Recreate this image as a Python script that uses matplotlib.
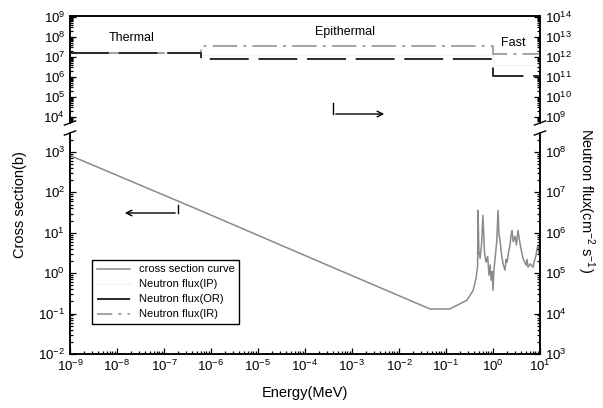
import matplotlib.pyplot as plt
from matplotlib.lines import Line2D
from matplotlib.ticker import LogLocator, FuncFormatter, NullFormatter
import numpy as np

plt.rcParams['font.family'] = ['Liberation Sans', 'DejaVu Sans']
plt.rcParams['mathtext.default'] = 'regular'

# cross section curve (energy in MeV, cross section in b)
energy_xs = [1e-9, 5.8e-7, 7.8e-5, 1.05e-2, 4.6e-2, 0.12, 0.28, 0.38, 0.44, 0.47,
             0.48, 0.50, 0.53, 0.57, 0.61, 0.66, 0.71, 0.77, 0.82, 0.87,
             0.91, 0.96, 1.0, 1.05, 1.10, 1.20, 1.28, 1.34, 1.41, 1.48,
             1.55, 1.66, 1.80, 1.90, 1.99, 2.15, 2.30, 2.42, 2.54, 2.70,
             2.94, 3.15, 3.40, 3.60, 3.75, 4.05, 4.35, 4.70, 5.04, 5.30,
             5.56, 6.20, 7.10, 7.60, 8.22, 8.60, 9.06, 9.50, 10.0]
sigma_xs = [820, 36, 3.1, 0.27, 0.13, 0.13, 0.215, 0.38, 0.8, 1.5,
            36, 3.5, 2.34, 5.0, 27, 3.2, 1.87, 2.6, 0.89, 1.6,
            0.67, 1.1, 0.38, 1.3, 2.09, 6.0, 36, 9.0, 6.5, 3.8,
            2.48, 1.6, 1.19, 2.2, 1.87, 3.4, 4.9, 8.5, 11.5, 6.0,
            8.2, 5.0, 11.5, 7.5, 5.5, 3.4, 2.34, 1.9, 1.58, 2.2,
            1.41, 1.7, 1.41, 2.0, 2.78, 3.9, 4.9, 3.0, 3.7]

# neutron flux per energy group (thermal, epithermal, fast)
group_edges = [1e-9, 6.25e-7, 1.0, 10.0]
flux_ip = [1.6e12, 1.2e12, 4.0e11]
flux_or = [1.6e12, 7.4e11, 1.08e11]
flux_ir = [1.6e12, 3.5e12, 1.36e12]

x_ticks = [10.0 ** k for k in range(-9, 2)]
left_bot_ticks = [10.0 ** k for k in range(-2, 4)]
left_top_ticks = [10.0 ** k for k in range(4, 10)]
right_bot_ticks = [10.0 ** k for k in range(3, 9)]
right_top_ticks = [10.0 ** k for k in range(9, 15)]

W, H = 603, 408
fig = plt.figure(figsize=(W / 100, H / 100), dpi=100)
ax_b = fig.add_axes([70 / W, 54 / H, 470 / W, 221 / H])
ax_t = fig.add_axes([70 / W, 285 / H, 470 / W, 107 / H], sharex=ax_b)
ax_br = ax_b.twinx()
ax_tr = ax_t.twinx()

fmt = FuncFormatter(lambda v, _: '$10^{%d}$' % int(round(np.log10(v))))

ax_b.set_xscale('log')
ax_b.set_xlim(1e-9, 1e1)
ax_b.set_xticks(x_ticks)
ax_b.xaxis.set_major_formatter(fmt)
ax_b.xaxis.set_minor_locator(LogLocator(base=10, subs=np.arange(2, 10), numticks=20))
ax_b.xaxis.set_minor_formatter(NullFormatter())

for ax, ticks, lo, hi in [(ax_b, left_bot_ticks, -2, 3.47), (ax_t, left_top_ticks, 3.7, 9.03),
                          (ax_br, right_bot_ticks, 3, 8.47), (ax_tr, right_top_ticks, 8.7, 14.03)]:
    ax.set_yscale('log')
    ax.set_ylim(10.0 ** lo, 10.0 ** hi)
    ax.set_yticks(ticks)
    ax.yaxis.set_major_formatter(fmt)
    ax.yaxis.set_minor_locator(LogLocator(base=10, subs=np.arange(2, 10), numticks=20))
    ax.yaxis.set_minor_formatter(NullFormatter())
    ax.tick_params(which='both', direction='in', labelsize=9.5, width=0.9)
    ax.tick_params(which='major', length=4)
    ax.tick_params(which='minor', length=2)
    for s in ax.spines.values():
        s.set_linewidth(1.1)

ax_t.tick_params(axis='x', which='both', bottom=False, top=False, labelbottom=False)
ax_tr.tick_params(axis='x', which='both', bottom=False, top=False, labelbottom=False)
for ax in (ax_b, ax_br):
    ax.spines['top'].set_visible(False)
for ax in (ax_t, ax_tr):
    ax.spines['bottom'].set_visible(False)

# data
l_xs, = ax_b.plot(energy_xs, sigma_xs, color='#8a8a8a', lw=1.1, label='cross section curve')
l_ip, = ax_tr.plot(group_edges, flux_ip + flux_ip[-1:], drawstyle='steps-post',
                   color='#f2f2f2', lw=1.0, label='Neutron flux(IP)')
l_ir, = ax_tr.plot(group_edges, flux_ir + flux_ir[-1:], drawstyle='steps-post',
                   color='#8a8a8a', lw=1.1, linestyle=(6, (16, 4, 2, 4)), label='Neutron flux(IR)')
l_or, = ax_tr.plot(group_edges, flux_or + flux_or[-1:], drawstyle='steps-post',
                   color='#2a2a2a', lw=1.4, dashes=(20, 5), label='Neutron flux(OR)')

ax_b.legend(handles=[l_xs, l_ip, l_or, l_ir], loc='lower left', bbox_to_anchor=(0.047, 0.136),
            borderaxespad=0, fontsize=8, handlelength=3, labelspacing=0.45,
            frameon=True, fancybox=False, framealpha=1, edgecolor='black')

# region labels
ax_t.text(132 / W, 1 - 38 / H, 'Thermal', transform=fig.transFigure, ha='center', va='center', fontsize=9)
ax_t.text(345 / W, 1 - 32 / H, 'Epithermal', transform=fig.transFigure, ha='center', va='center', fontsize=9)
ax_t.text(513 / W, 1 - 43 / H, 'Fast', transform=fig.transFigure, ha='center', va='center', fontsize=9)

# arrows pointing to the matching axis
fig.add_artist(Line2D([333 / W, 333 / W], [1 - 103 / H, 1 - 114 / H], color='black', lw=1))
fig.add_artist(Line2D([178 / W, 178 / W], [1 - 205 / H, 1 - 213 / H], color='black', lw=1))
ax_t.annotate('', xy=(387 / W, 1 - 114 / H), xytext=(333 / W, 1 - 114 / H),
              xycoords='figure fraction', textcoords='figure fraction',
              arrowprops=dict(arrowstyle='->', lw=1, color='black'))
ax_b.annotate('', xy=(122 / W, 1 - 213 / H), xytext=(178 / W, 1 - 213 / H),
              xycoords='figure fraction', textcoords='figure fraction',
              arrowprops=dict(arrowstyle='->', lw=1, color='black'))

# axis break marks
d = 0.012
for ax, y in [(ax_t, 0.0), (ax_b, 1.0)]:
    dy = 0.02 * 0.26 / ax.get_position().height
    for x in (0.0, 1.0):
        ax.plot([x - d, x + d], [y - dy, y + dy],
                transform=ax.transAxes, color='black', lw=1, clip_on=False)

fig.text(305 / W, 1 - 393 / H, 'Energy(MeV)', ha='center', va='center', fontsize=10.5)
fig.text(20 / W, 1 - 205 / H, 'Cross section(b)', rotation=90, ha='center', va='center', fontsize=10.5)
fig.text(586 / W, 1 - 200 / H, 'Neutron flux(cm$^{-2}$ s$^{-1}$)', rotation=270,
         ha='center', va='center', fontsize=10.5)

fig.savefig('out.png', dpi=100)
